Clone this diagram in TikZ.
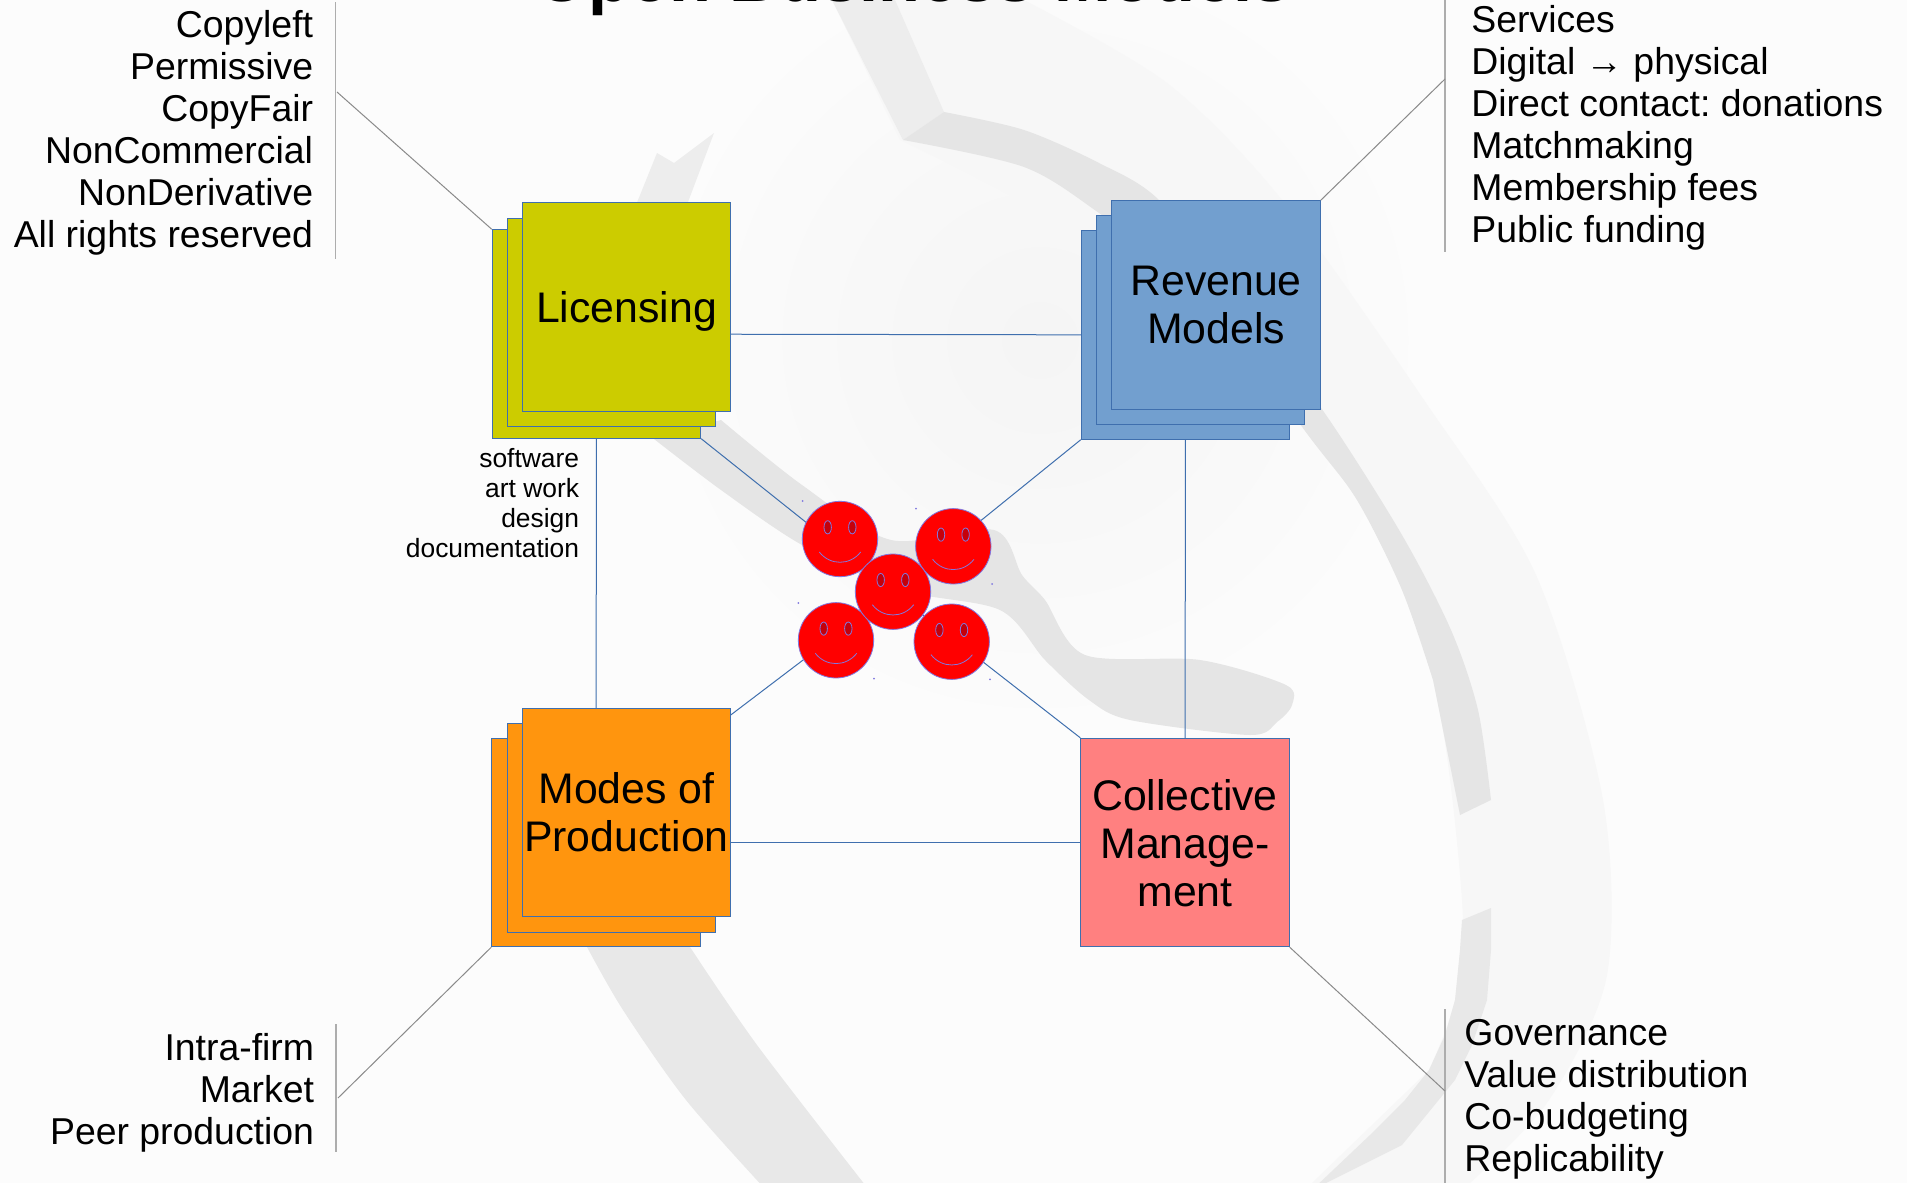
\documentclass[tikz,border=0pt]{standalone}
\usepackage{fontspec}
\setmainfont{Liberation Sans}
\usetikzlibrary{calc}
\pgfdeclarelayer{wm}
\pgfdeclarelayer{conn}
\pgfsetlayers{wm,conn,main}
\definecolor{edgeblue}{HTML}{3F6FAE}
\definecolor{facelink}{HTML}{8078E0}
\definecolor{eyered}{HTML}{C5000B}
\definecolor{leader}{HTML}{8A8A8A}
\definecolor{cyellow}{HTML}{CCCC00}
\definecolor{cblue}{HTML}{729FCF}
\definecolor{corange}{HTML}{FF950E}
\definecolor{cpink}{HTML}{FF8080}
\tikzset{
  sheet/.style={draw=edgeblue,line width=0.5pt,minimum size=104.2pt,inner sep=0pt,rectangle,
     font=\fontsize{21.4}{24}\selectfont,align=center},
  link/.style={draw=edgeblue,line width=0.5pt},
  lead/.style={draw=leader,line width=0.5pt},
  bar/.style={draw=leader!70,line width=0.8pt},
  listtext/.style={inner sep=0pt,font=\fontsize{18.7}{21}\selectfont\frenchspacing},
  smalltext/.style={inner sep=0pt,font=\fontsize{13.2}{15}\selectfont},
  face/.style={circle,fill=red,draw=facelink,line width=0.4pt,minimum size=37.7pt,inner sep=0pt},
  eye/.style={fill=eyered,draw=facelink,line width=0.4pt},
  smile/.style={draw=facelink,line width=0.4pt},
  speck/.style={fill=facelink},
}
\newcommand{\smileyface}[3]{%
  \node[face] (#1) at (#2,#3) {};
  \fill[eye,draw=facelink] ($(#1.center)+(-12.3,-11.7)$) ellipse [x radius=1.85pt,y radius=3.3pt];
  \fill[eye,draw=facelink] ($(#1.center)+(12.3,-11.7)$) ellipse [x radius=1.85pt,y radius=3.3pt];
  \draw[smile] ($(#1.center)+(-20.7,13)$) .. controls ($(#1.center)+(-10,26.7)$) and ($(#1.center)+(10,26.7)$) .. ($(#1.center)+(20.7,13)$);
}
\begin{document}
\begin{tikzpicture}[x=0.5pt,y=-0.5pt]
\useasboundingbox (0,0) rectangle (1907,1183);
% watermark
\begin{pgfonlayer}{wm}
\fill[white!99!black] (0,0) rectangle (1907,1183);
\shade[inner color=black!4,outer color=white!99!black] (1040,340) circle (420);
\fill[white!97!black] plot[smooth] coordinates {(1024,0) (1167,83) (1282,200) (1424,400) (1536,575) (1603,800) (1607,975) (1549,1100) (1470,1183)}
   -- (1312,1183) -- plot[smooth] coordinates {(1429,1070) (1455,1000) (1462,900) (1433,680) (1357,500) (1200,300) (1000,190) (900,140)} -- (832,0) -- cycle;
% top stem and arc
\fill[black!7] (832,0) -- (895,0) -- (944,112) -- (903,140) -- cycle;
\fill[black!10] plot[smooth] coordinates {(944,112) (1024,130) (1099,163) (1159,200) (1240,300) (1326,415) (1402,535) (1451,630) (1478,710) (1491,800)}
   -- (1460,815) -- plot[smooth] coordinates {(1433,680) (1402,590) (1357,500) (1308,435) (1200,290) (1099,213) (1024,167) (903,140)} -- cycle;
% lower ring
\fill[black!9] (1491,908) -- (1491,950) -- (1487,1000) -- (1472,1045) -- (1455,1080) -- (1402,1145) -- (1312,1190)
   -- (1370,1135) -- (1405,1100) -- (1429,1070) -- (1445,1035) -- (1455,1000) -- (1460,950) -- (1462,920) -- cycle;
% little peak near licensing box
\fill[black!7] (657,153) -- (674,163) -- (714,133) -- (685,210) -- (634,210) -- cycle;
% diagonal
\fill[black!10] plot[smooth] coordinates {(654,439) (721,490) (802,545) (900,590) (1000,610) (1045,660) (1089,700) (1130,720) (1250,735) (1277,722) (1292,705) (1286,685) (1200,660) (1085,655) (1045,600) (1022,575) (994,530) (891,540) (802,485) (721,420)} -- cycle;
% lower left band
\fill[black!9] plot[smooth] coordinates {(587,947) (623,1010) (686,1100) (766,1190)}
  -- plot[smooth] coordinates {(869,1190) (757,1045) (690,947)} -- cycle;
\end{pgfonlayer}

\node[font=\bfseries\fontsize{34.3}{40}\selectfont,inner sep=0pt,anchor=base] (title) at (913,2) {Open Business Models};

% cards
\node[sheet,fill=cyellow] (lic3) at (596.5,334) {};
\node[sheet,fill=cyellow] (lic2) at (611.6,322.3) {};
\node[sheet,fill=cyellow,text height=15.5pt,text depth=0pt] (lic1) at (626.5,307) {Licensing};

\node[sheet,fill=cblue] (rev3) at (1185.5,335) {};
\node[sheet,fill=cblue] (rev2) at (1200.5,320) {};
\node[sheet,fill=cblue,text height=38.5pt,text depth=0pt] (rev1) at (1216,305) {Revenue\\Models};

\node[sheet,fill=corange] (mod3) at (596,842.5) {};
\node[sheet,fill=corange] (mod2) at (611.5,827.8) {};
\node[sheet,fill=corange,text height=39pt,text depth=0pt] (mod1) at (626.5,812.5) {Modes of\\Production};

\node[sheet,fill=cpink,text height=63.5pt,text depth=0pt] (coll) at (1185,842.5) {Collective\\Manage-\\ment};

% faces
\smileyface{f1}{840}{539}
\smileyface{f2}{953.3}{546.3}
\smileyface{f4}{836}{640.3}
\smileyface{f5}{951.7}{641.7}
\smileyface{f3}{893}{591.7}
\foreach \px/\py in {802.7/501,916/508.7,992/584,798.3/603,874/678.7,990/679.3}
  \fill[speck] (\px,\py) circle (0.5pt);

% connectors
\begin{pgfonlayer}{conn}
\draw[link] (lic3.center) -- (rev3.center);
\draw[link] (lic3.center) -- (mod3.center);
\draw[link] (rev3.center) -- (coll.center);
\draw[link] (mod3.center) -- (coll.center);
\draw[link] (lic3.south east) -- (f3.center);
\draw[link] (rev3.south west) -- (f3.center);
\draw[link] (mod3.north east) -- (f3.center);
\draw[link] (coll.north west) -- (f3.center);
\end{pgfonlayer}

% lists
\coordinate (b1t) at (335.3,2);   \coordinate (b1b) at (335.3,259);
\coordinate (b2t) at (1445,0);    \coordinate (b2b) at (1445,252);
\coordinate (b3t) at (336,1024);  \coordinate (b3b) at (336,1152);
\coordinate (b4t) at (1445,1009); \coordinate (b4b) at (1445,1183);
\coordinate (e1) at (337,92);
\coordinate (e2) at (1445,79);
\coordinate (e3) at (338,1098);
\coordinate (e4) at (1445,1091);
\draw[bar] (b1t) -- (b1b);
\draw[bar] (b2t) -- (b2b);
\draw[bar] (b3t) -- (b3b);
\draw[bar] (b4t) -- (b4b);
\draw[lead] (lic3.north west) -- (e1);
\draw[lead] (rev1.north east) -- (e2);
\draw[lead] (mod3.south west) -- (e3);
\draw[lead] (coll.south east) -- (e4);

\node[listtext,align=right,anchor=base east] (tl) at (313.5,247.8) {Copyleft\\Permissive\\CopyFair\\NonCommercial\\NonDerivative\\All rights reserved};
\node[listtext,align=left,anchor=base west] (tr) at (1471,242) {Services\\Digital → physical\\Direct contact: donations\\Matchmaking\\Membership fees\\Public funding};
\node[listtext,align=right,anchor=base east] (bl) at (314.5,1144) {Intra-firm\\Market\\Peer production};
\node[listtext,align=left,anchor=base west] (br) at (1464,1171) {Governance\\Value distribution\\Co-budgeting\\Replicability};
\node[smalltext,align=right,anchor=base east] (sm) at (579.5,557.7) {software\\art work\\design\\documentation};
\end{tikzpicture}
\end{document}
